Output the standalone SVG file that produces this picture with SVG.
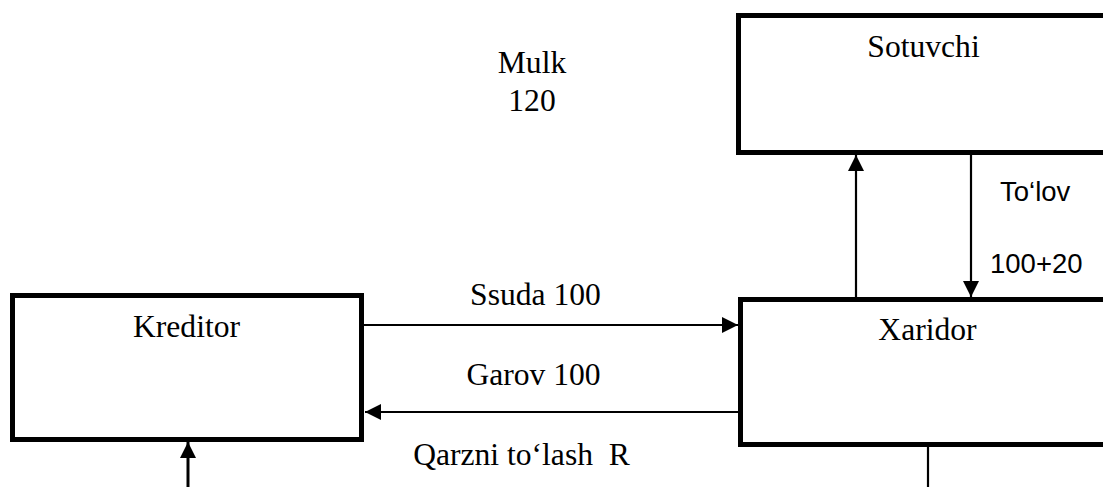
<svg xmlns="http://www.w3.org/2000/svg" width="1103" height="487" viewBox="0 0 1103 487">
  <style>
    .box { fill: #fff; stroke: #000; stroke-width: 5; }
    .serif { font-family: "Liberation Serif", "Times New Roman", serif; font-size: 31.6px; fill: #000; text-anchor: middle; }
    .sans { font-family: "Liberation Sans", Arial, sans-serif; font-size: 27.5px; fill: #000; }
    .line { stroke: #000; stroke-width: 2.2; fill: none; }
    .thick { stroke: #000; stroke-width: 3; fill: none; }
  </style>
  <defs>
    <marker id="arrow" markerUnits="userSpaceOnUse" markerWidth="16" markerHeight="16" viewBox="0 0 16 16" refX="16" refY="8" orient="auto">
      <path d="M0,0 L16,8 L0,16 Z" fill="#000"/>
    </marker>
  </defs>

  <rect width="1103" height="487" fill="#fff"/>

  <!-- free label above the exchange -->
  <g id="mulk">
    <text class="serif" x="532" y="73">Mulk</text>
    <text class="serif" x="532" y="111">120</text>
  </g>

  <g id="sotuvchi">
    <rect class="box" x="738.5" y="15.5" width="376" height="137"/>
    <text class="serif" x="923.5" y="57">Sotuvchi</text>
  </g>

  <g id="kreditor">
    <rect class="box" x="12.5" y="295.5" width="349" height="144"/>
    <text class="serif" x="186.5" y="337">Kreditor</text>
  </g>

  <g id="xaridor">
    <rect class="box" x="740.5" y="299.5" width="374" height="145"/>
    <text class="serif" x="927.5" y="340">Xaridor</text>
  </g>

  <g id="connectors">
    <!-- Xaridor -> Sotuvchi (property) -->
    <line class="line" x1="856" y1="297" x2="856" y2="155" marker-end="url(#arrow)"/>
    <!-- Sotuvchi -> Xaridor (payment) -->
    <line class="line" x1="971" y1="154" x2="971" y2="297" marker-end="url(#arrow)"/>
    <!-- Kreditor -> Xaridor (loan) -->
    <line class="line" x1="364" y1="325" x2="738" y2="325" marker-end="url(#arrow)"/>
    <!-- Xaridor -> Kreditor (collateral) -->
    <line class="line" x1="738" y1="412" x2="365" y2="412" marker-end="url(#arrow)"/>
    <!-- repayment back into Kreditor -->
    <line class="thick" x1="188" y1="487" x2="188" y2="442" marker-end="url(#arrow)"/>
    <!-- line leaving Xaridor downward -->
    <line class="line" x1="928" y1="447" x2="928" y2="487"/>
  </g>

  <g id="labels">
    <text class="serif" x="535.5" y="305">Ssuda 100</text>
    <text class="serif" x="533.5" y="385">Garov 100</text>
    <text class="serif" x="521.5" y="465" xml:space="preserve">Qarzni to‘lash  R</text>
    <text class="sans" x="1000" y="201">To‘lov</text>
    <text class="sans" x="990" y="273">100+20</text>
  </g>
</svg>
